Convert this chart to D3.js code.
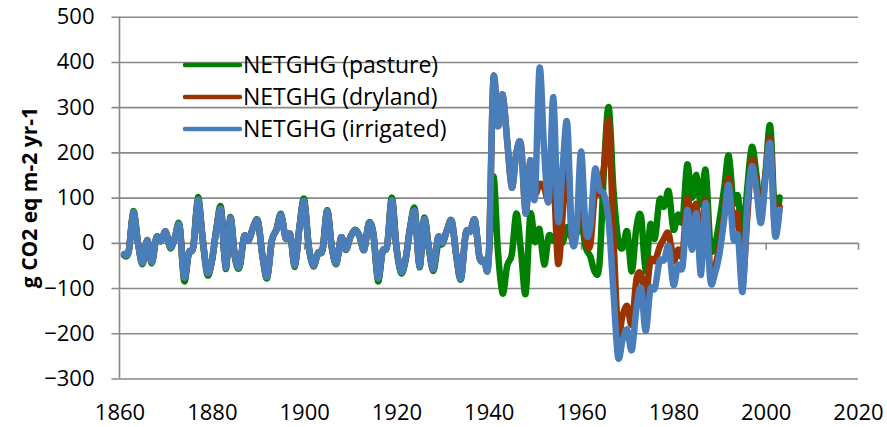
<!DOCTYPE html>
<html>
<head>
<meta charset="utf-8">
<script src="https://cdn.jsdelivr.net/npm/d3@7.9.0/dist/d3.min.js"></script>
<style>
  body { margin: 0; background: #fff; }
  text { font-family: "Open Sans", sans-serif; }
</style>
</head>
<body>
<div id="chart"></div>
<script>
// Years 1861..2003 (one value per year)
const years = d3.range(1861, 2004);

const pasture = [
  -28, -20, 70, 0, -47, 6, -45, 12, 4, 25, -12, 12, 40, -84, -24, -8, 101, 10, -70, -42,
  32, 78, -58, 57, -32, -55, 14, 6, 36, 48, -32, -78, 5, 30, 64, 10, 18, -53, 36, 97,
  -8, -52, -23, -15, 72, -10, -47, 12, -16, 12, 29, 15, -16, 44, 20, -85, -19, -6, 100, -10,
  -67, -37, 37, 74, -54, 55, -10, -62, -5, -2, 30, 48, -32, -80, 20, 25, 50, -33, -38, -30,
  147, -20, -112, -50, -25, 65, -20, -112, 62, 2, 30, -48, 15, 5, 20, 0, 35, 10, 20, 47,
  -10, -30, -65, -45, 170, 300, 120, 10, -12, 25, -63, 35, 58, -63, 40, 10, 95, 80, 114, 30,
  62, 50, 173, 100, 150, 85, 160, -5, -5, 50, 120, 193, 90, 103, 10, 120, 212, 150, 60, 160,
  258, 55, 100
];

const dryland = [
  -25, -18, 68, 0, -45, 6, -42, 12, 4, 25, -10, 12, 38, -76, -22, -8, 95, 10, -65, -40,
  30, 72, -55, 55, -30, -52, 14, 6, 35, 47, -30, -75, 5, 28, 62, 10, 18, -50, 35, 92,
  -8, -50, -22, -15, 70, -10, -45, 12, -15, 12, 28, 15, -15, 42, 20, -78, -18, -6, 94, -10,
  -64, -35, 35, 68, -52, 52, -10, -58, 12, 0, 30, 47, -30, -78, 20, 25, 50, -32, -38, -32,
  360, 258, 328, 225, 122, 200, 215, 65, 182, 110, 130, 122, 92, 150, -45, 60, 208, 10, 25, 90,
  10, -5, 110, 110, 170, 268, 20, -195, -160, -140, -180, -80, -70, -120, -40, -40, -10, 10, 20, -40,
  -15, -25, 97, 45, 85, -20, 95, -65, -55, -5, 65, 143, 40, 62, -85, 55, 182, 130, 68, 155,
  228, 32, 80
];

const irrigated = [
  -25, -18, 68, 0, -45, 6, -42, 12, 4, 25, -10, 12, 38, -76, -22, -8, 95, 10, -65, -40,
  30, 72, -55, 55, -30, -52, 14, 6, 35, 47, -30, -75, 5, 28, 62, 10, 18, -50, 35, 92,
  -8, -50, -22, -15, 70, -10, -45, 12, -15, 12, 28, 15, -15, 42, 20, -78, -18, -6, 94, -10,
  -64, -35, 35, 68, -52, 52, -10, -58, 12, 0, 30, 47, -30, -78, 20, 25, 50, -32, -38, -32,
  360, 258, 328, 225, 122, 200, 215, 65, 182, 100, 386, 205, 92, 322, 50, 165, 265, 15, 25, 202,
  30, 35, 162, 118, 106, 45, -105, -252, -215, -192, -237, -145, -100, -195, -104, -100, -41, -38, -8, -93,
  -49, -52, 73, -15, 65, -71, 88, -82, -68, -23, 51, 128, 10, 14, -108, 80, 169, 117, 44, 147,
  217, 18, 73
];

const seriesNames = ["NETGHG (pasture)", "NETGHG (dryland)", "NETGHG (irrigated)"];
const seriesColors = ["#008000", "#993300", "#4a7ebb"];
const yTicks = [-300, -200, -100, 0, 100, 200, 300, 400, 500];
const xTicks = [1860, 1880, 1900, 1920, 1940, 1960, 1980, 2000, 2020];

const width = 887;
const height = 427;
const gridColor = "#898989";

const x = d3.scaleLinear().domain([1860, 2020]).range([119.5, 858]);
const y = d3.scaleLinear().domain([-300, 500]).range([378.5, 16.7]);

const svg = d3
  .select("#chart")
  .append("svg")
  .attr("width", width)
  .attr("height", height)
  .style("display", "block");

// horizontal gridlines + y tick labels
const gY = svg
  .append("g")
  .attr("transform", `translate(${x(1860)},0)`)
  .call(
    d3.axisLeft(y)
      .tickValues(yTicks)
      .tickSize(-(x(2020) - x(1860)))
      .tickPadding(25)
      .tickFormat(d3.format("d"))
  );
gY.select(".domain").remove();
gY.selectAll(".tick line")
  .attr("x1", -8)
  .attr("stroke", gridColor)
  .attr("stroke-width", 1.6);
gY.selectAll(".tick text")
  .attr("font-size", 22)
  .attr("font-family", "Open Sans, sans-serif")
  .attr("fill", "#000");

// vertical axis line
svg.append("line")
  .attr("x1", x(1860)).attr("x2", x(1860))
  .attr("y1", y(500)).attr("y2", y(-300))
  .attr("stroke", gridColor)
  .attr("stroke-width", 1.6);

// x axis: tick marks on the zero line, labels at the bottom
const gX = svg
  .append("g")
  .attr("transform", `translate(0,${y(0)})`)
  .call(
    d3.axisBottom(x)
      .tickValues(xTicks)
      .tickSize(7)
      .tickPadding(y(-300) - y(0) + 19)
      .tickFormat(d3.format("d"))
  );
gX.select(".domain").remove();
gX.selectAll(".tick line")
  .attr("stroke", gridColor)
  .attr("stroke-width", 1.6);
gX.selectAll(".tick text")
  .attr("font-size", 22)
  .attr("font-family", "Open Sans, sans-serif")
  .attr("fill", "#000");

// y axis title
svg.append("text")
  .attr("transform", `translate(37,${(y(500) + y(-300)) / 2}) rotate(-90)`)
  .attr("text-anchor", "middle")
  .attr("font-size", 21)
  .attr("font-weight", "bold")
  .attr("fill", "#000")
  .text("g CO2 eq m-2 yr-1");

// series (smoothed like the spreadsheet)
const line = d3.line()
  .x((d, i) => x(years[i]))
  .y((d) => y(d))
  .curve(d3.curveCardinal.tension(0));

[pasture, dryland, irrigated].forEach((values, i) => {
  svg.append("path")
    .datum(values)
    .attr("fill", "none")
    .attr("stroke", seriesColors[i])
    .attr("stroke-width", 6.5)
    .attr("stroke-linejoin", "round")
    .attr("stroke-linecap", "round")
    .attr("d", line);
});

// legend
const legend = svg.append("g").attr("transform", "translate(185,65)");
seriesNames.forEach((name, i) => {
  const row = legend.append("g").attr("transform", `translate(0,${i * 32})`);
  row.append("line")
    .attr("x1", 0).attr("x2", 55)
    .attr("stroke", seriesColors[i])
    .attr("stroke-width", 4.5)
    .attr("stroke-linecap", "round");
  row.append("text")
    .attr("x", 58)
    .attr("dy", "0.35em")
    .attr("font-size", 23)
    .attr("fill", "#000")
    .text(name);
});
</script>
</body>
</html>
